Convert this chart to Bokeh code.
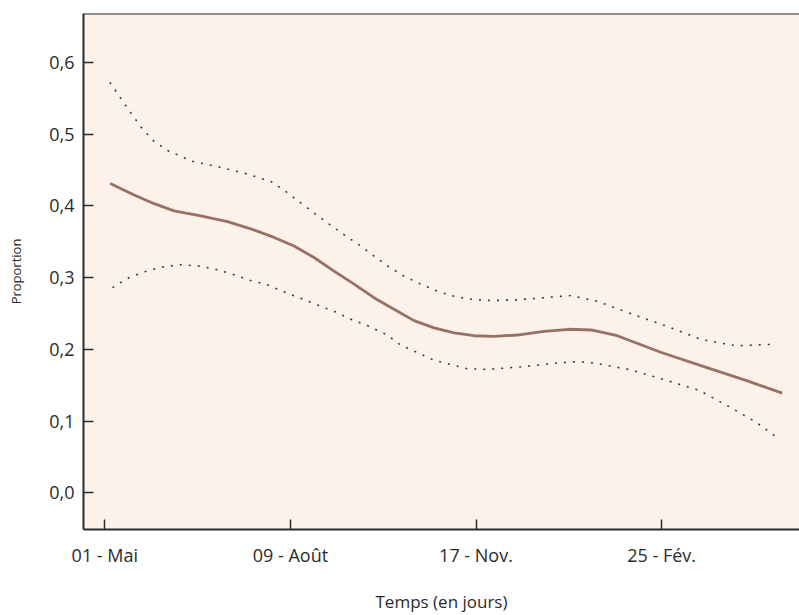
from bokeh.plotting import figure
from bokeh.models import Range1d, FixedTicker, Span
from bokeh.embed import file_html
from bokeh.resources import INLINE

# ---- data (days since 01 May, proportion) ----
mid_days = [2.9, 15.8, 26.6, 37.3, 51.7, 66.1, 78.6, 91.2, 101.9, 112.7, 123.5, 134.3,
            145.0, 155.8, 166.6, 177.4, 188.1, 198.9, 209.7, 222.3, 236.6, 250.0,
            262.0, 276.1, 299.5, 322.8, 346.2, 365.0]
mid_vals = [0.431, 0.415, 0.403, 0.393, 0.386, 0.378, 0.368, 0.356, 0.344, 0.328, 0.309,
            0.291, 0.272, 0.256, 0.240, 0.230, 0.223, 0.219, 0.218, 0.220, 0.225, 0.228,
            0.227, 0.219, 0.196, 0.176, 0.156, 0.139]

up_days = [2.7, 10.9, 19.4, 26.0, 33.8, 47.2, 61.6, 75.9, 89.4, 97.5, 105.6, 113.7,
           121.7, 129.8, 137.9, 145.0, 153.1, 161.2, 170.2, 179.2, 188.1, 197.1, 207.9,
           222.3, 236.6, 251.0, 265.4, 284.2, 303.1, 321.0, 339.9, 359.6]
up_vals = [0.572, 0.541, 0.510, 0.491, 0.477, 0.462, 0.454, 0.445, 0.434, 0.420, 0.404,
           0.388, 0.373, 0.358, 0.344, 0.330, 0.315, 0.302, 0.291, 0.281, 0.274, 0.270,
           0.268, 0.269, 0.272, 0.275, 0.267, 0.249, 0.232, 0.214, 0.205, 0.207]

lo_days = [4.1, 12.2, 21.2, 31.1, 40.9, 50.8, 60.7, 69.6, 78.6, 87.6, 97.5, 106.5,
           115.4, 124.4, 133.4, 142.4, 151.4, 159.4, 177.4, 195.3, 206.1, 225.8, 243.8,
           254.6, 263.5, 282.4, 301.2, 320.1, 337.2, 350.6, 362.3]
lo_vals = [0.286, 0.299, 0.308, 0.315, 0.318, 0.316, 0.311, 0.304, 0.296, 0.290, 0.279,
           0.270, 0.261, 0.252, 0.241, 0.232, 0.221, 0.206, 0.185, 0.173, 0.172, 0.176,
           0.181, 0.183, 0.181, 0.172, 0.158, 0.143, 0.119, 0.099, 0.077]

x_ticks = [0, 100, 200, 300]
x_tick_labels = ["01 - Mai", "09 - Août", "17 - Nov.", "25 - Fév."]
y_ticks = [0.0, 0.1, 0.2, 0.3, 0.4, 0.5, 0.6]
y_tick_labels = ["0,0", "0,1", "0,2", "0,3", "0,4", "0,5", "0,6"]

FONT = "Open Sans"
INK = "#2b2b2b"
Y_TOP = 0.668

p = figure(width=799, height=615, output_backend="svg", toolbar_location=None,
           x_range=Range1d(-11.5, 374.3), y_range=Range1d(-0.051, Y_TOP),
           min_border_left=83, min_border_right=0, min_border_top=13, min_border_bottom=83)
p.background_fill_color = "#fdf2e9"
p.border_fill_color = "white"
p.outline_line_color = None
p.grid.visible = False

p.line(up_days, up_vals, line_color="#3a3a3a", line_width=1.6, line_dash="2 7")
p.line(lo_days, lo_vals, line_color="#3a3a3a", line_width=1.6, line_dash="2 7")
p.line(mid_days, mid_vals, line_color="#987064", line_width=2.8, line_join="round")

p.add_layout(Span(location=Y_TOP, dimension="width", line_color=INK, line_width=2))

for ax in (p.xaxis[0], p.yaxis[0]):
    ax.axis_line_color = INK
    ax.axis_line_width = 2
    ax.major_tick_line_color = INK
    ax.major_tick_line_width = 1.5
    ax.major_tick_in = 10
    ax.major_tick_out = 0
    ax.minor_tick_line_color = None
    ax.major_label_text_font = FONT
    ax.major_label_text_font_size = "18px"
    ax.major_label_text_color = INK
    ax.axis_label_text_font = FONT
    ax.axis_label_text_font_style = "normal"
    ax.axis_label_text_color = INK

p.xaxis.ticker = FixedTicker(ticks=x_ticks)
p.xaxis.major_label_overrides = {t: l for t, l in zip(x_ticks, x_tick_labels)}
p.xaxis.major_label_standoff = 13
p.xaxis.axis_label = "Temps (en jours)"
p.xaxis.axis_label_text_font_size = "17px"
p.xaxis.axis_label_standoff = 20

p.yaxis.ticker = FixedTicker(ticks=y_ticks)
p.yaxis.major_label_overrides = {t: l for t, l in zip(y_ticks, y_tick_labels)}
p.yaxis.major_label_standoff = 9
p.yaxis.axis_label = "Proportion"
p.yaxis.axis_label_text_font_size = "13px"
p.yaxis.axis_label_standoff = 21

open("out.html", "w").write(file_html(p, INLINE))
